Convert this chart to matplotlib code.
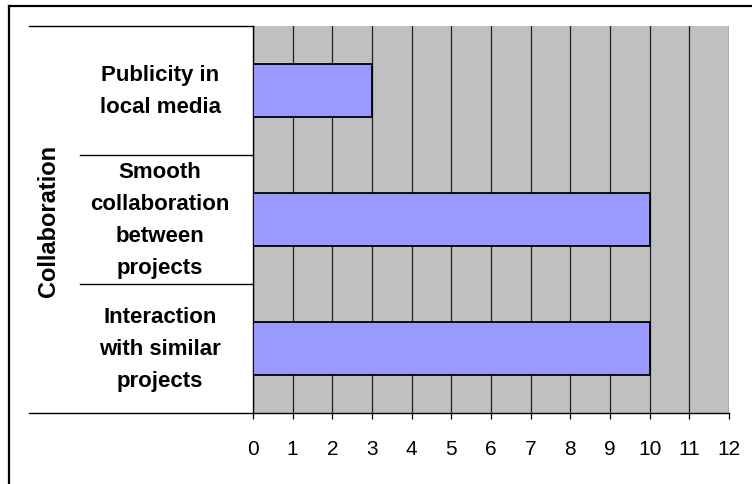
import matplotlib
matplotlib.use("Agg")
import matplotlib.pyplot as plt
from matplotlib.lines import Line2D

# Data
categories = ["Publicity in\nlocal media",
              "Smooth\ncollaboration\nbetween\nprojects",
              "Interaction\nwith similar\nprojects"]
values = [3, 10, 10]
group_label = "Collaboration"
x_ticks = list(range(0, 13))

W, H = 752, 485
fig = plt.figure(figsize=(W / 100, H / 100), dpi=100)
plt.rcParams['font.family'] = ['Liberation Sans', 'DejaVu Sans']

# plot area in pixel coordinates
px_left, px_right, px_top, px_bottom = 253, 729, 27, 414
ax = fig.add_axes([px_left / W, 1 - px_bottom / H,
                   (px_right - px_left) / W, (px_bottom - px_top) / H])
ax.set_facecolor("#C0C0C0")

ypos = list(range(len(categories)))
ax.barh(ypos, values, height=0.41, color="#9999FF", edgecolor="black",
        linewidth=1.3, zorder=3)
ax.set_ylim(len(categories) - 0.5, -0.5)
ax.set_xlim(0, 12)

# vertical gridlines
ax.set_xticks(x_ticks)
ax.xaxis.grid(True, color="#202020", linewidth=0.9, zorder=1)
ax.set_axisbelow(True)
ax.tick_params(axis="x", direction="out", length=4, width=0.9,
               labelsize=15, pad=15, colors="black")
ax.tick_params(axis="y", left=False, labelleft=False)

for side in ("top", "right"):
    ax.spines[side].set_visible(False)
ax.spines["left"].set_color("black")
ax.spines["left"].set_linewidth(1.0)
ax.spines["bottom"].set_color("black")
ax.spines["bottom"].set_linewidth(1.0)

def ax_frac(px):
    return (px - px_left) / (px_right - px_left)

# category separators on the left
tr = ax.get_yaxis_transform()
n = len(categories)
for b in range(n + 1):
    yb = b - 0.5
    x0 = ax_frac(29) if b in (0, n) else ax_frac(80)
    ax.add_line(Line2D([x0, 0], [yb, yb], transform=tr, color="black",
                       linewidth=1.0, clip_on=False))

# category labels
for y, lab in zip(ypos, categories):
    ax.text(ax_frac(160), y, lab, transform=tr, ha="center", va="center",
            multialignment="center", fontsize=16, fontweight="bold",
            linespacing=1.7)

# group label
ax.text(ax_frac(49), 0.5, group_label, transform=ax.transAxes, rotation=90,
        ha="center", va="center", fontsize=17, fontweight="bold")

# chart border (left and top edges)
fx = 8.5 / W
fy = 1 - 6.5 / H
fig.add_artist(Line2D([fx, fx], [0, fy], transform=fig.transFigure,
                      color="black", linewidth=1.6))
fig.add_artist(Line2D([fx, 1], [fy, fy], transform=fig.transFigure,
                      color="black", linewidth=1.6))

fig.savefig("out.png", dpi=100)
